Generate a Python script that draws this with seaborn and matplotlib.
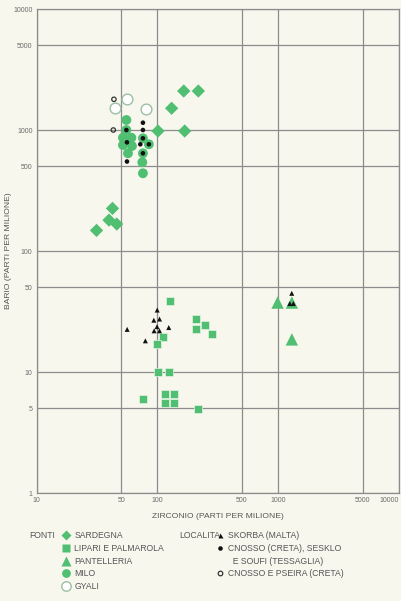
import matplotlib
matplotlib.use("Agg")
import numpy as np
import pandas as pd
import matplotlib.pyplot as plt
from matplotlib.lines import Line2D
import seaborn as sns

sns.set_style("white")
plt.rcParams["font.family"] = ["Liberation Sans", "DejaVu Sans"]

# dati (zirconio, bario in ppm)
sardegna_zr = [165, 218, 131, 101, 168, 42.4, 39.7, 46, 31.3]
sardegna_ba = [2100, 2100, 1512, 981, 981, 225, 180, 167, 148]

lipari_zr = [126.5, 209, 246, 209, 284, 112, 98.9, 100.7, 125, 75.8, 116, 137, 116, 137, 215]
lipari_ba = [38.4, 27.3, 24.6, 22.5, 20.6, 19.4, 17.1, 10, 10, 5.95, 6.54, 6.54, 5.51, 5.51, 4.97]

pantelleria_zr = [988, 1297, 1297]
pantelleria_ba = [37.5, 37.5, 18.6]

milo_zr = [55.3, 55.3, 51.8, 60.8, 51.8, 61.5, 57.0, 75.8, 84.9, 75.8, 74.9, 75.8]
milo_ba = [1210, 1000, 864, 864, 751, 738, 642, 854, 762, 642, 541, 439]

gyali_zr = [44.2, 55.9, 80.8]
gyali_ba = [1512, 1804, 1492]

skorba_zr = [99.5, 93.3, 104, 56.1, 99.2, 93.8, 104, 124, 79.4, 1294, 1247, 1334]
skorba_ba = [32.5, 26.8, 27.4, 22.5, 23.7, 21.9, 21.9, 23.3, 18.1, 44.7, 36.8, 36.8]

cnosso_zr = [55.3, 55.9, 55.9, 75.8, 75.8, 75.8, 72.1, 84.9, 75.8]
cnosso_ba = [1000, 791, 549, 1149, 1000, 854, 762, 762, 642]

pseira_zr = [43.6, 43.1]
pseira_ba = [1794, 1000]

ticks_x = [10, 50, 100, 500, 1000, 5000, 10000]
ticks_y = [1, 5, 10, 50, 100, 500, 1000, 5000, 10000]

verde = "#50bf72"
nero = "#111111"
sfondo = "#f7f7ee"
griglia = "#8c8c8c"
testo = "#555555"

fig = plt.figure(figsize=(4.02, 6.01), dpi=100, facecolor=sfondo)
ax = fig.add_axes([0.0913, 0.1797, 0.9012, 0.8053])
ax.set_facecolor(sfondo)

# fonti (verde)
sns.scatterplot(x=sardegna_zr, y=sardegna_ba, marker="D", s=46, color=verde, edgecolor="none", ax=ax, zorder=3)
sns.scatterplot(x=lipari_zr, y=lipari_ba, marker="s", s=38, color=verde, edgecolor="#e4f2e4", linewidth=0.5, ax=ax, zorder=3)
sns.scatterplot(x=pantelleria_zr, y=pantelleria_ba, marker="^", s=80, color=verde, edgecolor="none", ax=ax, zorder=3)
sns.scatterplot(x=milo_zr, y=milo_ba, marker="o", s=50, color=verde, edgecolor="none", ax=ax, zorder=3)
sns.scatterplot(x=gyali_zr, y=gyali_ba, marker="o", s=60, facecolor="white", edgecolor="#9cbfa5", linewidth=1.0, ax=ax, zorder=3)

# localita (nero)
sns.scatterplot(x=skorba_zr, y=skorba_ba, marker="^", s=13, color=nero, edgecolor="none", ax=ax, zorder=4)
sns.scatterplot(x=cnosso_zr, y=cnosso_ba, marker="o", s=11, color=nero, edgecolor="none", ax=ax, zorder=4)
sns.scatterplot(x=pseira_zr, y=pseira_ba, marker="o", s=10, facecolor="none", edgecolor="#333333", linewidth=0.9, ax=ax, zorder=4)

ax.set_xscale("log")
ax.set_yscale("log")
ax.set_xlim(10, 10000)
ax.set_ylim(1, 10000)
ax.set_xticks(ticks_x)
ax.set_xticklabels([str(t) for t in ticks_x])
ax.set_yticks(ticks_y)
ax.set_yticklabels([str(t) for t in ticks_y])
ax.minorticks_off()
ax.tick_params(length=0, labelsize=5, colors="#6a6a6a", pad=3)
ax.get_xticklabels()[-1].set_horizontalalignment("right")
ax.grid(True, color=griglia, linewidth=0.9)
ax.set_axisbelow(True)
for sp in ax.spines.values():
    sp.set_color(griglia)
    sp.set_linewidth(0.9)

ax.set_xlabel("ZIRCONIO (PARTI PER MILIONE)", fontsize=6.1, color=testo, labelpad=6)
ax.set_ylabel("BARIO (PARTI PER MILIONE)", fontsize=6.1, color=testo)
ax.yaxis.set_label_coords(-0.068, 0.5)

# legenda
h_fonti = [
    Line2D([], [], ls="none", marker="D", ms=5.5, color=verde, mec="none"),
    Line2D([], [], ls="none", marker="s", ms=6, color=verde, mec="none"),
    Line2D([], [], ls="none", marker="^", ms=7.5, color=verde, mec="none"),
    Line2D([], [], ls="none", marker="o", ms=6.3, color=verde, mec="none"),
    Line2D([], [], ls="none", marker="o", ms=6.8, mfc="white", mec="#9cbfa5", mew=1.0),
]
l_fonti = ["SARDEGNA", "LIPARI E PALMAROLA", "PANTELLERIA", "MILO", "GYALI"]
h_loc = [
    Line2D([], [], ls="none", marker="^", ms=3.6, color=nero, mec="none"),
    Line2D([], [], ls="none", marker="o", ms=3.3, color=nero, mec="none"),
    Line2D([], [], ls="none", marker="none"),
    Line2D([], [], ls="none", marker="o", ms=3.3, mfc="none", mec="#333333", mew=0.9),
]
l_loc = ["SKORBA (MALTA)", "CNOSSO (CRETA), SESKLO", "  E SOUFI (TESSAGLIA)", "CNOSSO E PSEIRA (CRETA)"]

kw = dict(frameon=False, fontsize=6.2, labelcolor=testo, handlelength=1.0, handletextpad=0.45,
          labelspacing=0.42, borderpad=0, borderaxespad=0, loc="upper left")
fig.legend(h_fonti, l_fonti, bbox_to_anchor=(61.7 / 402, 1 - 531.5 / 601), **kw)
fig.legend(h_loc, l_loc, bbox_to_anchor=(215.5 / 402, 1 - 531.5 / 601), **kw)
fig.text(29 / 402, 1 - 536 / 601, "FONTI", fontsize=6.2, color=testo, va="center")
fig.text(179 / 402, 1 - 536 / 601, "LOCALITA", fontsize=6.2, color=testo, va="center")

fig.savefig("out.png", dpi=100, facecolor=sfondo)
